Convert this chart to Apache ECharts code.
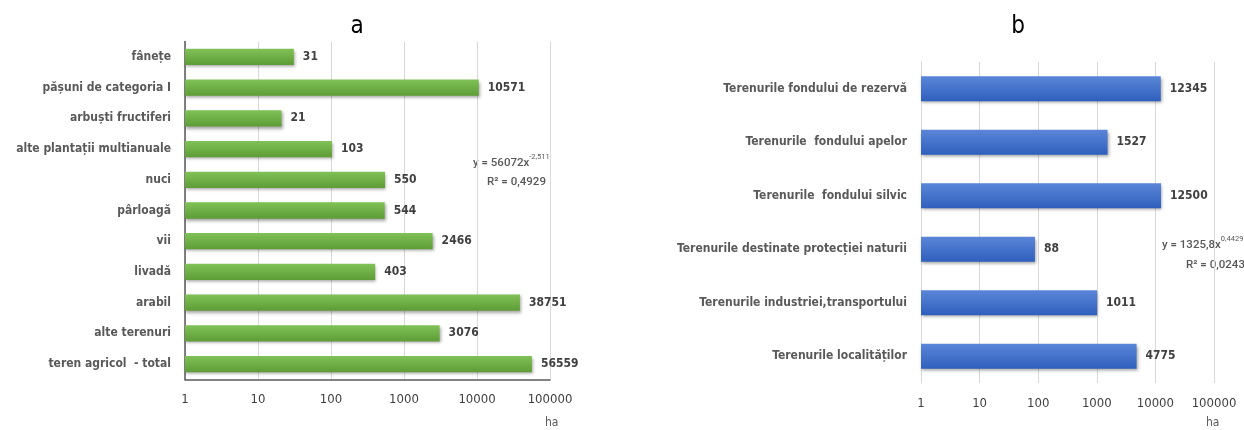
<!DOCTYPE html>
<html><head><meta charset="utf-8">
<script src="https://cdn.jsdelivr.net/npm/echarts@6/dist/echarts.min.js"></script>
<style>html,body{margin:0;padding:0;background:#fff}#c{width:1244px;height:430px}</style>
</head><body><div id="c"></div>
<script>
const catsA = ['fânețe','pășuni de categoria I','arbuști fructiferi','alte plantații multianuale','nuci','pârloagă','vii','livadă','arabil','alte terenuri','teren agricol  - total'];
const valsA = [31,10571,21,103,550,544,2466,403,38751,3076,56559];
const catsB = ['Terenurile fondului de rezervă','Terenurile  fondului apelor','Terenurile  fondului silvic','Terenurile destinate protecției naturii','Terenurile industriei,transportului','Terenurile localităților'];
const valsB = [12345,1527,12500,88,1011,4775];
const tickLabels = ['1','10','100','1000','10000','100000'];

const FONT = '"Liberation Sans Narrow","DejaVu Sans Condensed","Roboto","Noto Sans",sans-serif';
const EQFONT = 'Roboto, "Noto Sans", sans-serif';
const chart = echarts.init(document.getElementById('c'));
const green = new echarts.graphic.LinearGradient(0,0,0,1,[{offset:0,color:'#80c257'},{offset:1,color:'#5e9c36'}]);
const blue = new echarts.graphic.LinearGradient(0,0,0,1,[{offset:0,color:'#5b86d8'},{offset:1,color:'#2f5fbd'}]);

function xAx(gi, axisLineShow){
  return {
    type:'log', logBase:10, min:1, max:100000, gridIndex:gi,
    axisLine:{show:axisLineShow, lineStyle:{color:'#595959', width:1.5}},
    axisTick:{show:false},
    splitLine:{show:true, lineStyle:{color:'#d9d9d9'}},
    axisLabel:{color:'#404040', fontSize:13, fontFamily:FONT, margin:14,
      formatter:function(v){ const i = Math.round(Math.log10(v)); return tickLabels[i] !== undefined ? tickLabels[i] : ''; }}
  };
}
function yAx(gi, cats, lineShow){
  return {
    type:'category', data:cats, inverse:true, gridIndex:gi,
    axisLine:{show:true, lineStyle:{color: lineShow ? '#595959' : '#d9d9d9', width: lineShow ? 1.5 : 1}},
    axisTick:{show:false},
    axisLabel:{color:'#595959', fontSize:12, fontFamily:FONT, fontWeight:'bold', margin:14}
  };
}
function barSeries(gi, vals, color, bw){
  return {
    type:'bar', xAxisIndex:gi, yAxisIndex:gi, data:vals, barWidth:bw,
    itemStyle:{color:color, shadowColor:'rgba(0,0,0,0.35)', shadowBlur:3, shadowOffsetX:1, shadowOffsetY:2},
    label:{show:true, position:'right', distance:9, color:'#404040', fontSize:12, fontWeight:'bold', fontFamily:FONT},
    silent:true
  };
}
const eqRich = {
  m:{fontSize:11.5, fill:'#595959', fontFamily:EQFONT, fontWeight:500, lineHeight:20},
  s:{fontSize:7.5, fill:'#595959', fontFamily:EQFONT, lineHeight:20, verticalAlign:'top', padding:[0,0,8,0]}
};
const rStyle = {fontSize:11.5, fontWeight:500, fill:'#595959', fontFamily:EQFONT};
chart.setOption({
  animation:false,
  title:[
    {text:'a', left:352, top:10, textAlign:'center', textStyle:{fontSize:24, fontWeight:'normal', color:'#000', fontFamily:FONT}},
    {text:'b', left:1013, top:10, textAlign:'center', textStyle:{fontSize:24, fontWeight:'normal', color:'#000', fontFamily:FONT}}
  ],
  grid:[
    {left:185, right:694, top:41.6, bottom:50.6},
    {left:921, right:30, top:62, bottom:47}
  ],
  xAxis:[xAx(0,true), xAx(1,false)],
  yAxis:[yAx(0,catsA,true), yAx(1,catsB,false)],
  series:[barSeries(0,valsA,green,'53%'), barSeries(1,valsB,blue,'47%')],
  graphic:[
    {type:'text', left:473, top:153, style:Object.assign({text:'{m|y = 56072x}{s|-2,511}', rich:eqRich})},
    {type:'text', left:487, top:176, style:Object.assign({text:'R² = 0,4929'}, rStyle)},
    {type:'text', left:1162, top:235, style:{text:'{m|y = 1325,8x}{s|0,4429}', rich:eqRich}},
    {type:'text', left:1186, top:259, style:Object.assign({text:'R² = 0,0243'}, rStyle)},
    {type:'text', left:545, top:417, style:{text:'ha', fontSize:12, fill:'#595959', fontFamily:FONT}},
    {type:'text', left:1206, top:417, style:{text:'ha', fontSize:12, fill:'#595959', fontFamily:FONT}}
  ]
});
</script></body></html>
